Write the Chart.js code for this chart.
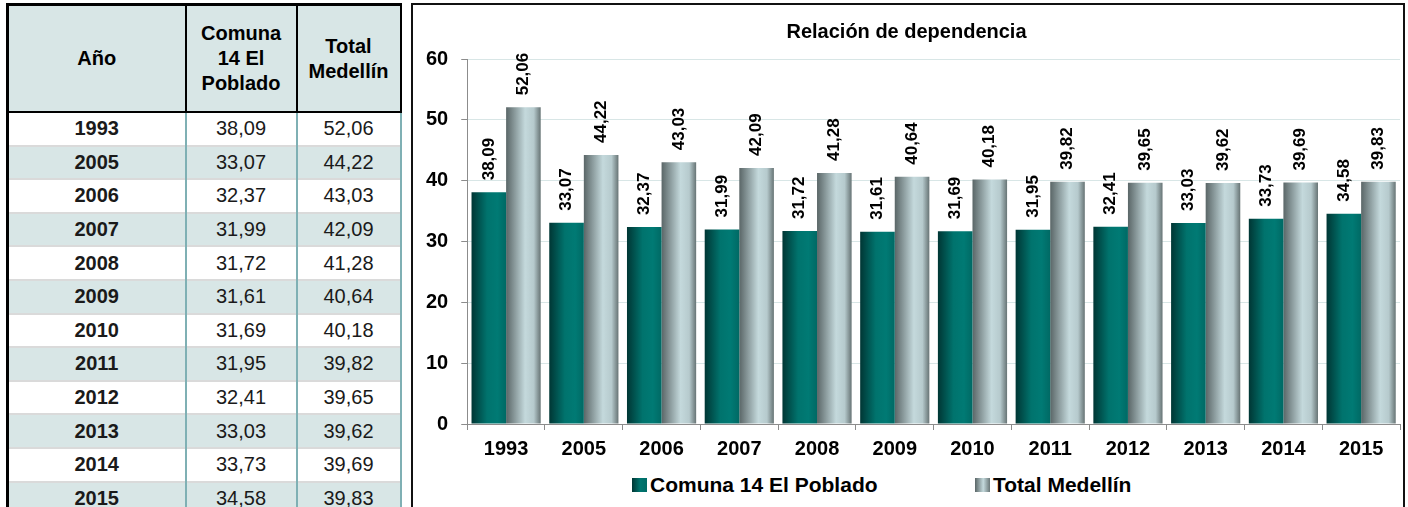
<!DOCTYPE html>
<html>
<head>
<meta charset="utf-8">
<script src="https://cdn.jsdelivr.net/npm/chart.js@4.4.0/dist/chart.umd.min.js"></script>
<style>
  body { margin: 0; background: #fff; font-family: "Liberation Sans", Arial, sans-serif; width: 1408px; height: 507px; overflow: hidden; position: relative; }
  #tabla { position: absolute; left: 6px; top: 3px; width: 393px; border-collapse: collapse; table-layout: fixed; border-left: 3px solid #000; border-top: 3px solid #000; border-right: 2px solid #000; }
  #tabla th { background: #d8e6e6; height: 105px; padding: 0; font-size: 20px; font-weight: bold; line-height: 25px; color: #000; border-bottom: 2px solid #000; border-right: 2px solid #000; }
  #tabla tbody tr { height: 33.6px; }
  #tabla td { padding: 0; text-align: center; font-size: 20px; color: #1a1a1a; border-top: 2px solid #dadada; border-right: 2px solid #7fb0b4; }
  #tabla td.anio { font-weight: bold; }
  #tabla tr.par td { background: #d8e6e6; }
  #cajaGrafico { position: absolute; left: 411px; top: 3px; width: 990px; height: 520px; border: 2px solid #111; }
  #lienzo { position: absolute; left: 0; top: 0; width: 990px; height: 468px; }
  .leyenda { position: absolute; top: 468px; height: 24px; display: flex; align-items: center; font-size: 21px; font-weight: bold; color: #000; white-space: nowrap; }
  .cuadro { width: 15px; height: 14px; margin-right: 3px; }
</style>
</head>
<body>
<table id="tabla">
  <colgroup><col style="width:178px"><col style="width:111px"><col style="width:104px"></colgroup>
  <thead>
    <tr><th>Año</th><th>Comuna<br>14 El<br>Poblado</th><th>Total<br>Medellín</th></tr>
  </thead>
  <tbody id="cuerpo"></tbody>
</table>

<div id="cajaGrafico">
  <div id="lienzo"><canvas id="grafico"></canvas></div>
  <div class="leyenda" style="left:219px"><div class="cuadro" style="background:linear-gradient(to right,#003634,#007670 55%,#006b66)"></div><span id="ley1"></span></div>
  <div class="leyenda" style="left:562px"><div class="cuadro" style="background:linear-gradient(to right,#5a6667,#c4d9dc 55%,#6a7778)"></div><span id="ley2"></span></div>
</div>

<script>
const anios = ["1993", "2005", "2006", "2007", "2008", "2009", "2010", "2011", "2012", "2013", "2014", "2015"];
const comuna14 = [38.09, 33.07, 32.37, 31.99, 31.72, 31.61, 31.69, 31.95, 32.41, 33.03, 33.73, 34.58];
const totalMedellin = [52.06, 44.22, 43.03, 42.09, 41.28, 40.64, 40.18, 39.82, 39.65, 39.62, 39.69, 39.83];
const nombresSeries = ["Comuna 14 El Poblado", "Total Medellín"];
const tituloGrafico = "Relación de dependencia";
const ticksY = [0, 10, 20, 30, 40, 50, 60];

const formato = (v) => v.toFixed(2).replace(".", ",");

// Tabla de la izquierda
const cuerpo = document.getElementById("cuerpo");
anios.forEach((a, i) => {
  const fila = document.createElement("tr");
  if (i % 2 === 1) fila.className = "par";
  fila.innerHTML = `
    <td class="anio">${a}</td>
    <td>${formato(comuna14[i])}</td>
    <td>${formato(totalMedellin[i])}</td>
  `;
  cuerpo.appendChild(fila);
});
document.getElementById("ley1").textContent = nombresSeries[0];
document.getElementById("ley2").textContent = nombresSeries[1];

const paradas = [
  [[0, "#003634"], [0.45, "#00736d"], [0.75, "#007a74"], [1, "#006964"]],
  [[0, "#5a6667"], [0.55, "#c4d9dc"], [0.8, "#b6cacd"], [1, "#677475"]]
];

// Degradado horizontal por barra
const degradado = {
  id: "degradado",
  beforeDatasetsDraw(chart) {
    const ctx = chart.ctx;
    chart.data.datasets.forEach((ds, i) => {
      chart.getDatasetMeta(i).data.forEach(bar => {
        const g = ctx.createLinearGradient(bar.x - bar.width / 2, 0, bar.x + bar.width / 2, 0);
        paradas[i].forEach(([p, c]) => g.addColorStop(p, c));
        bar.options = Object.assign({}, bar.options, { backgroundColor: g });
      });
    });
  }
};

// Etiquetas verticales sobre las barras
const etiquetas = {
  id: "etiquetas",
  afterDatasetsDraw(chart) {
    const ctx = chart.ctx;
    ctx.save();
    ctx.font = "bold 17px 'Liberation Sans', Arial, sans-serif";
    ctx.fillStyle = "#000";
    ctx.textAlign = "left";
    ctx.textBaseline = "middle";
    chart.data.datasets.forEach((ds, i) => {
      chart.getDatasetMeta(i).data.forEach((bar, j) => {
        ctx.save();
        ctx.translate(bar.x, bar.y - 12);
        ctx.rotate(-Math.PI / 2);
        ctx.fillText(formato(ds.data[j]), 0, 0);
        ctx.restore();
      });
    });
    ctx.restore();
  }
};

Chart.defaults.font.family = "'Liberation Sans', Arial, sans-serif";
Chart.defaults.color = "#000";

new Chart(document.getElementById("grafico").getContext("2d"), {
  type: "bar",
  data: {
    labels: anios,
    datasets: [
      { label: nombresSeries[0], data: comuna14, backgroundColor: "#007670", categoryPercentage: 0.89, barPercentage: 1 },
      { label: nombresSeries[1], data: totalMedellin, backgroundColor: "#b8cdd0", categoryPercentage: 0.89, barPercentage: 1 }
    ]
  },
  options: {
    responsive: true,
    maintainAspectRatio: false,
    animation: false,
    layout: { padding: { left: 0, right: 3, top: 0, bottom: 5 } },
    plugins: {
      legend: { display: false },
      tooltip: { enabled: false },
      title: {
        display: true,
        text: tituloGrafico,
        font: { size: 20, weight: "bold" },
        padding: { top: 15, bottom: 15 }
      }
    },
    scales: {
      x: {
        grid: { drawOnChartArea: false, drawTicks: true, tickLength: 6, tickColor: "#8c8c8c" },
        border: { color: "#8c8c8c" },
        ticks: { font: { size: 20, weight: "bold" }, padding: 7, color: "#000" }
      },
      y: {
        min: ticksY[0],
        max: ticksY[ticksY.length - 1],
        afterBuildTicks: (axis) => { axis.ticks = ticksY.map(v => ({ value: v })); },
        grid: { color: "#d8e6e6", tickColor: "#8c8c8c", tickLength: 6 },
        border: { color: "#8c8c8c" },
        ticks: { font: { size: 20, weight: "bold" }, padding: 13, color: "#000" }
      }
    }
  },
  plugins: [degradado, etiquetas]
});
</script>
</body>
</html>
